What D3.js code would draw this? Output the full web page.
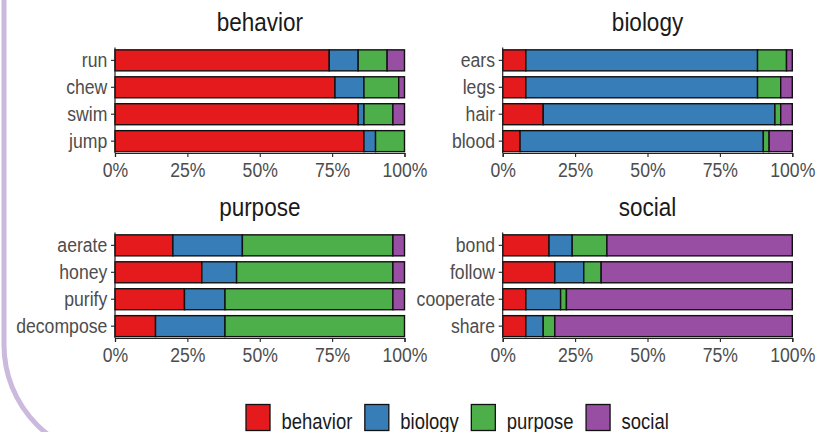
<!DOCTYPE html>
<html>
<head>
<meta charset="utf-8">
<script src="https://cdn.jsdelivr.net/npm/d3@7"></script>
<style>
  body { margin: 0; background: #fff; }
  svg { display: block; }
  text { font-family: "Liberation Sans", Arial, sans-serif; }
</style>
</head>
<body>
<svg id="chart"></svg>
<script>
// categories (fill groups) and colours
const groups = ["behavior", "biology", "purpose", "social"];
const colors = ["#E41A1C", "#377EB8", "#4DAF4A", "#984EA3"];
const tickValues = [0, 25, 50, 75, 100];

// items per panel, and percentage of each group (behavior, biology, purpose, social)
const behaviorItems = ["run", "chew", "swim", "jump"];
const behaviorValues = [[74, 10, 10, 6], [76, 10, 12, 2], [84, 2, 10, 4], [86, 4, 10, 0]];

const biologyItems = ["ears", "legs", "hair", "blood"];
const biologyValues = [[8, 80, 10, 2], [8, 80, 8, 4], [14, 80, 2, 4], [6, 84, 2, 8]];

const purposeItems = ["aerate", "honey", "purify", "decompose"];
const purposeValues = [[20, 24, 52, 4], [30, 12, 54, 4], [24, 14, 58, 4], [14, 24, 62, 0]];

const socialItems = ["bond", "follow", "cooperate", "share"];
const socialValues = [[16, 8, 12, 64], [18, 10, 6, 66], [8, 12, 2, 78], [8, 6, 4, 82]];

const W = 818, H = 432;
// text in the picture looks squeezed sideways
const SX_AXIS = 0.84, SX_TITLE = 0.9, SX_LEGEND = 0.84;

const svg = d3.select("#chart").attr("width", W).attr("height", H);

// decorative purple frame on the left
svg.append("path")
    .attr("d", "M4,-10 L4,345 A113,113 0 0 0 117,458")
    .attr("fill", "none")
    .attr("stroke", "#cbb9de")
    .attr("stroke-width", 5);

const panels = [
    { title: "behavior", items: behaviorItems, values: behaviorValues, x: [115, 404.5], y: [48.5, 153], ty: 31 },
    { title: "biology", items: biologyItems, values: biologyValues, x: [502.7, 792.3], y: [48.5, 153], ty: 31 },
    { title: "purpose", items: purposeItems, values: purposeValues, x: [115, 404.5], y: [233.5, 338], ty: 216 },
    { title: "social", items: socialItems, values: socialValues, x: [502.7, 792.3], y: [233.5, 338], ty: 216 }
];

const stack = d3.stack().keys(groups);
const color = d3.scaleOrdinal().domain(groups).range(colors);

panels.forEach(p => {
    const rows = p.items.map((item, i) => {
        const r = { item: item };
        groups.forEach((g, j) => r[g] = p.values[i][j]);
        return r;
    });

    const x = d3.scaleLinear().domain([0, 100]).range(p.x);
    const y = d3.scaleBand().domain(p.items).range(p.y).paddingInner(0.22).paddingOuter(0.05);

    const g = svg.append("g");

    // bars
    g.selectAll(".layer")
        .data(stack(rows))
        .join("g")
        .attr("class", "layer")
        .attr("fill", d => color(d.key))
        .selectAll("rect")
        .data(d => d.filter(s => s[1] - s[0] > 0))
        .join("rect")
        .attr("x", d => x(d[0]))
        .attr("y", d => y(d.data.item))
        .attr("width", d => x(d[1]) - x(d[0]))
        .attr("height", y.bandwidth())
        .attr("stroke", "#111")
        .attr("stroke-width", 1.4);

    // x axis
    const xa = g.append("g")
        .attr("transform", `translate(0,${p.y[1]})`)
        .call(d3.axisBottom(x).tickValues(tickValues).tickFormat(d => d + "%").tickSize(4).tickPadding(5));
    // y axis
    const ya = g.append("g")
        .attr("transform", `translate(${p.x[0]},0)`)
        .call(d3.axisLeft(y).tickSize(4).tickPadding(3.7));

    [xa, ya].forEach(a => {
        a.select(".domain").attr("stroke", "#222").attr("stroke-width", 1.2);
        a.selectAll(".tick line").attr("stroke", "#222").attr("stroke-width", 1.1);
        a.selectAll(".tick text")
            .attr("font-size", 21)
            .attr("font-family", "'Liberation Sans', Arial, sans-serif")
            .attr("fill", "#4d4d4d")
            .attr("transform", `scale(${SX_AXIS},1)`);
    });
    ya.select(".domain").attr("d", `M0,${p.y[0] - 1}V${p.y[1]}`);
    // y labels are placed by x attr; keep them right-aligned after the squeeze
    ya.selectAll(".tick text").attr("x", -7.7 / SX_AXIS);

    // panel title
    g.append("text")
        .attr("transform", `translate(${(p.x[0] + p.x[1]) / 2},${p.ty}) scale(${SX_TITLE},1)`)
        .attr("text-anchor", "middle")
        .attr("font-size", 25)
        .attr("fill", "#1a1a1a")
        .text(p.title);
});

// legend
const legend = svg.append("g");
let lx = 246;
groups.forEach((gname, i) => {
    legend.append("rect")
        .attr("x", lx).attr("y", 404.5)
        .attr("width", 24).attr("height", 26)
        .attr("fill", colors[i])
        .attr("stroke", "#111")
        .attr("stroke-width", 1.3);
    const t = legend.append("text")
        .attr("transform", `translate(${lx + 35.5},428.5) scale(${SX_LEGEND},1)`)
        .attr("font-size", 22)
        .attr("fill", "#1a1a1a")
        .text(gname);
    lx += 35.5 + t.node().getComputedTextLength() * SX_LEGEND + 12.5;
});
</script>
</body>
</html>
